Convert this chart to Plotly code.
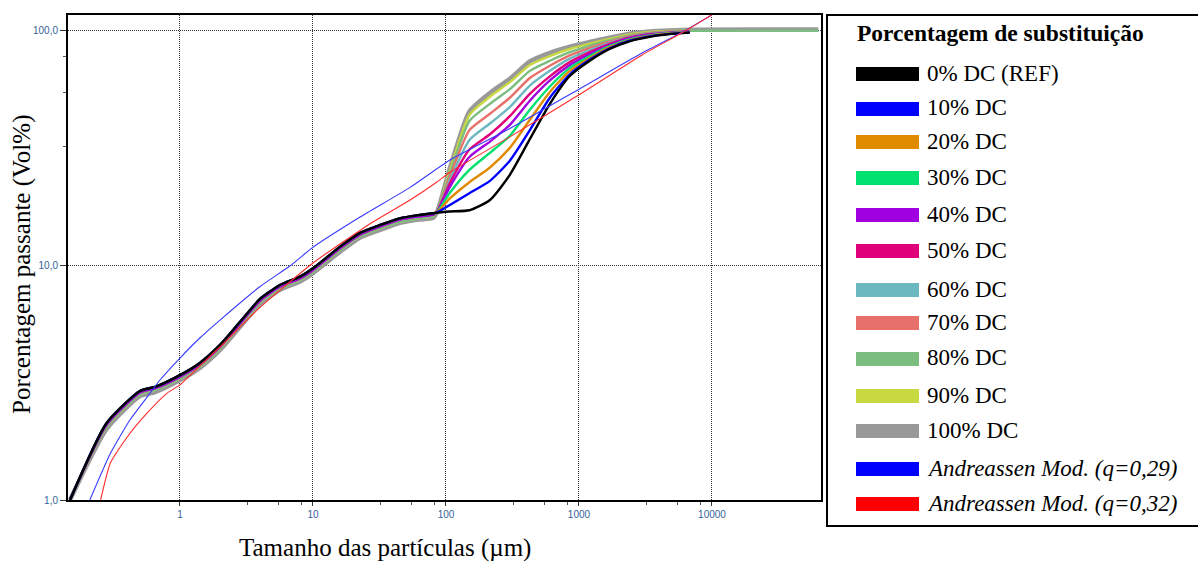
import plotly.graph_objects as go

# ---------------- data ----------------
# particle sizes (µm) shared by the measured curves
size_fine = [0.149, 0.28, 0.5, 0.65, 1.0, 1.41, 2.0, 2.83, 4.0, 5.65, 8.0, 10, 16, 22.6, 32, 45, 62, 80, 85]
size_coarse = [107, 150, 214, 302, 427, 604, 853, 1206, 1700, 2400, 3400, 4800, 6800]
size_tail = [63000]

# fine part (nearly identical for all mixtures)
fines_a = [1.0, 2.12, 2.91, 3.03, 3.40, 3.83, 4.57, 5.73, 7.17, 8.22, 8.92, 9.68, 11.97, 13.7, 14.8, 15.8, 16.3, 16.6, 16.7]
fines_b = [1.0, 2.09, 2.87, 2.99, 3.35, 3.77, 4.50, 5.64, 7.06, 8.10, 8.79, 9.53, 11.8, 13.5, 14.6, 15.6, 16.1, 16.4, 16.7]
fines_c = [1.0, 2.05, 2.82, 2.94, 3.30, 3.71, 4.43, 5.56, 6.95, 7.97, 8.65, 9.39, 11.6, 13.3, 14.35, 15.3, 15.8, 16.15, 16.7]
fines_d = [1.0, 2.00, 2.77, 2.88, 3.24, 3.65, 4.35, 5.46, 6.84, 7.84, 8.51, 9.24, 11.4, 13.1, 14.1, 15.1, 15.6, 15.9, 16.6]

# coarse part, one list per mixture (cumulative passing, vol %)
pass_0 = [16.9, 17.1, 18.9, 24.2, 34.3, 48.5, 63.7, 74.0, 83.0, 89.5, 93.5, 96.0, 97.5]
pass_10 = [18.0, 20.2, 22.8, 27.8, 37.5, 51.5, 64.8, 74.8, 83.6, 90.0, 94.0, 96.3, 97.7]
pass_20 = [19.2, 22.5, 26.0, 31.5, 41.5, 54.5, 67.0, 76.0, 84.5, 90.6, 94.4, 96.6, 97.9]
pass_30 = [20.3, 25.4, 30.0, 35.5, 45.8, 57.5, 69.0, 77.5, 85.4, 91.3, 94.9, 96.9, 98.1]
pass_40 = [21.5, 28.8, 33.5, 39.5, 50.0, 61.0, 71.0, 79.0, 86.3, 92.0, 95.4, 97.2, 98.3]
pass_50 = [22.3, 31.0, 36.0, 43.0, 53.5, 63.5, 73.0, 80.5, 87.2, 92.7, 95.9, 97.5, 98.5]
pass_60 = [23.0, 34.0, 40.0, 47.0, 58.0, 67.0, 75.5, 82.2, 88.2, 93.4, 96.4, 97.9, 98.8]
pass_70 = [23.8, 37.5, 44.0, 51.5, 62.5, 70.5, 78.0, 84.0, 89.3, 94.1, 96.9, 98.3, 99.0]
pass_80 = [24.5, 41.0, 48.5, 56.0, 67.0, 74.0, 80.5, 85.8, 90.5, 94.9, 97.5, 98.7, 99.3, 99.5]
pass_90 = [25.2, 43.5, 52.0, 60.0, 71.0, 77.5, 83.0, 87.5, 91.6, 95.7, 98.0, 99.1, 99.6]
pass_100 = [25.8, 45.0, 54.0, 62.0, 73.5, 80.0, 85.0, 89.0, 92.8, 96.5, 98.6, 99.6, 100.3, 100.5]

series_names = ["0% DC (REF)", "10% DC", "20% DC", "30% DC", "40% DC", "50% DC",
                "60% DC", "70% DC", "80% DC", "90% DC", "100% DC"]
series_colors = ["#000000", "#0000ff", "#e08a00", "#00e070", "#a000e0", "#e0007a",
                 "#6cb8c0", "#e8706a", "#7abd7e", "#c8d840", "#999999"]
series_coarse = [pass_0, pass_10, pass_20, pass_30, pass_40, pass_50,
                 pass_60, pass_70, pass_80, pass_90, pass_100]
series_fines = [fines_a, fines_a, fines_a, fines_a, fines_b, fines_b,
                fines_b, fines_b, fines_c, fines_c, fines_d]

# modified Andreassen model curves
and029_size = [0.21, 0.30, 0.42, 0.565, 0.707, 1.0, 1.41, 2.0, 4.0, 6.7, 10, 22.6, 53.7, 107, 300, 1000, 3000, 6000, 10000]
and029_pass = [1.0, 1.58, 2.19, 2.74, 3.24, 4.02, 4.89, 5.83, 8.1, 9.9, 11.9, 16.0, 21.4, 28.0, 38.0, 56.0, 80.0, 98.0, 116.0]
and032_size = [0.253, 0.30, 0.40, 0.565, 0.80, 1.0, 1.41, 2.1, 4.0, 10, 28, 53.7, 85, 107, 300, 1000, 3000, 6000, 10000]
and032_pass = [1.0, 1.44, 1.85, 2.34, 2.85, 3.09, 3.72, 4.6, 6.6, 10.2, 15.2, 18.9, 22.5, 24.8, 35.0, 53.0, 78.5, 97.5, 116.0]
model_names = ["<i>Andreassen Mod. (q=0,29)</i>", "<i>Andreassen Mod. (q=0,32)</i>"]
model_colors = ["#3a3aff", "#ff2a2a"]

x_tickvals = [1, 10, 100, 1000, 10000]
x_ticktext = ["1", "10", "100", "1000", "10000"]
y_tickvals = [1, 10, 100]
y_ticktext = ["1,0", "10,0", "100,0"]

# ---------------- figure ----------------
W, H = 1198, 563
L, R, T, B = 68, 377, 15, 63
PW, PH = W - L - R, H - T - B


def px(x):
    return (x - L) / PW


def py(y):
    return (H - B - y) / PH


fig = go.Figure()

# draw 100% first (thick halo), then down to 0%
for i in reversed(range(len(series_names))):
    coarse = series_coarse[i]
    xs = size_fine + size_coarse + size_tail[:len(coarse) - len(size_coarse)]
    ys = series_fines[i] + coarse
    fig.add_trace(go.Scatter(
        x=xs, y=ys, mode="lines", name=series_names[i],
        line=dict(color=series_colors[i], width=4.5 if i == 10 else 2.4,
                  shape="spline", smoothing=0.6),
        showlegend=False))

for xs, ys, nm, col in [(and029_size, and029_pass, model_names[0], model_colors[0]),
                        (and032_size, and032_pass, model_names[1], model_colors[1])]:
    fig.add_trace(go.Scatter(x=xs, y=ys, mode="lines", name=nm,
                             line=dict(color=col, width=1.1, shape="spline", smoothing=0.5),
                             showlegend=False))

tick_font = dict(family="Liberation Sans, Arial", size=10, color="#35649a")
fig.update_xaxes(
    type="log", range=[-0.842, -0.842 + PW / 133.0],
    tickvals=x_tickvals, ticktext=x_ticktext, tickfont=tick_font,
    ticks="outside", ticklen=4, tickcolor="#333",
    showgrid=True, gridcolor="#333", griddash="1px,1px", gridwidth=1,
    showline=True, linecolor="black", linewidth=2, mirror=True, zeroline=False,
    minor=dict(tickvals=[3.2, 5.5, 8.2, 32, 55, 82, 320, 550, 820, 3200, 5500, 8200],
               ticks="outside", ticklen=3, tickcolor="#555", showgrid=False),
)
fig.update_yaxes(
    type="log", range=[0, PH / 235.0],
    tickvals=y_tickvals, ticktext=y_ticktext, tickfont=tick_font,
    ticks="outside", ticklen=6, tickcolor="#333",
    showgrid=True, gridcolor="#333", griddash="1px,1px", gridwidth=1,
    showline=True, linecolor="black", linewidth=2, mirror=True, zeroline=False,
    minor=dict(tickvals=[32, 54, 77], ticks="outside", ticklen=3,
               tickcolor="#555", showgrid=False),
)

serif = "Liberation Serif, Times New Roman, serif"
annotations = [
    dict(text="Tamanho das partículas (µm)", x=px(385), y=py(548), xref="paper", yref="paper",
         showarrow=False, xanchor="center", yanchor="middle",
         font=dict(family=serif, size=25, color="black")),
    dict(text="Porcentagem passante (Vol%)", x=px(22), y=py(265), xref="paper", yref="paper",
         showarrow=False, xanchor="center", yanchor="middle", textangle=-90,
         font=dict(family=serif, size=25, color="black")),
    dict(text="<b>Porcentagem de substituição</b>", x=px(855), y=py(33), xref="paper", yref="paper",
         showarrow=False, xanchor="left", yanchor="middle",
         font=dict(family=serif, size=23.5, color="black")),
]

shapes = [
    dict(type="rect", xref="paper", yref="paper", x0=px(827), x1=px(1215), y0=py(526), y1=py(15),
         line=dict(color="black", width=2), fillcolor="rgba(0,0,0,0)", layer="above"),
]

legend_rows = [74, 109, 142, 178, 215, 251, 290, 323, 359, 396, 431, 469, 504]
legend_labels = series_names + model_names
legend_colors = series_colors + ["#0000ff", "#ff0000"]
for yc, lab, col in zip(legend_rows, legend_labels, legend_colors):
    shapes.append(dict(type="rect", xref="paper", yref="paper",
                       x0=px(856), x1=px(919), y0=py(yc + 7), y1=py(yc - 7),
                       fillcolor=col, line=dict(width=0), layer="above"))
    annotations.append(dict(text=lab, x=px(925), y=py(yc - 1), xref="paper", yref="paper",
                            showarrow=False, xanchor="left", yanchor="middle",
                            font=dict(family=serif, size=23, color="black")))

fig.update_layout(
    width=W, height=H,
    margin=dict(l=L, r=R, t=T, b=B),
    paper_bgcolor="white", plot_bgcolor="white",
    showlegend=False,
    annotations=annotations, shapes=shapes,
)

fig.write_html("out.html")
